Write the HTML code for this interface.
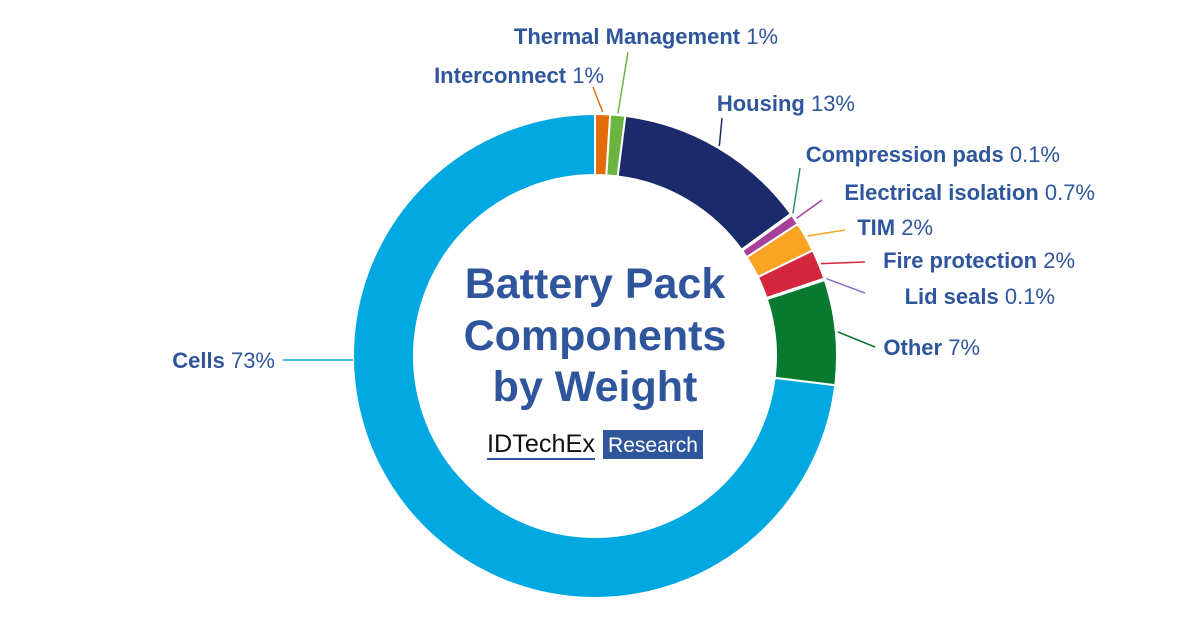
<!DOCTYPE html>
<html><head><meta charset="utf-8"><style>
body{margin:0;background:#fff;}
svg{display:block;font-family:"Liberation Sans",Arial,sans-serif;}
</style></head><body>
<svg id="chart" width="1200" height="627" viewBox="0 0 1200 627">
<g id="slices"></g><g id="labels"></g>
<g fill="#2f569c" font-weight="bold" font-size="43" text-anchor="middle">
<text x="595" y="298">Battery Pack</text>
<text x="595" y="350">Components</text>
<text x="595" y="401">by Weight</text>
</g>
<g>
<text x="487" y="452" font-size="25" fill="#111" textLength="108" lengthAdjust="spacingAndGlyphs">IDTechEx</text>
<line x1="487" y1="459" x2="595" y2="459" stroke="#2f569c" stroke-width="2"/>
<rect x="603" y="430" width="100" height="29" fill="#2f569c"/>
<text x="653" y="452" font-size="21" fill="#fff" text-anchor="middle">Research</text>
</g>
</svg>
<script>
const categories=["Interconnect","Thermal Management","Housing","Compression pads","Electrical isolation","TIM","Fire protection","Lid seals","Other","Cells"];
const values=[1,1,13,0.1,0.7,2,2,0.1,7,73];
const valueLabels=["1%","1%","13%","0.1%","0.7%","2%","2%","0.1%","7%","73%"];
const colors=["#e36c0a","#6cb33f","#1b2a6b","#2a8a7a","#a8409a","#f9a423","#d4263e","#8a6fc2","#087a2f","#00a8e1"];
const labelPos=[[604,83,"end"],[778,44,"end"],[855,111,"end"],[1060,162,"end"],[1095,200,"end"],[933,235,"end"],[1075,268,"end"],[1055,304,"end"],[980,355,"end"],[275,368,"end"]];
const lineEnd=[[593,87],[628,52],[722,118],[800,168],[822,200],[845,230],[865,262],[865,293],[875,347],[283,360]];
const cx=595,cy=356,R=242,r=181;
const NS="http://www.w3.org/2000/svg";
const total=values.reduce((a,b)=>a+b,0);
function pt(a,rad){return [cx+rad*Math.sin(a),cy-rad*Math.cos(a)];}
let acc=0;
const gS=document.getElementById('slices'),gL=document.getElementById('labels');
values.forEach((v,i)=>{
 const a0=acc/total*2*Math.PI;acc+=v;const a1=acc/total*2*Math.PI;
 const large=(a1-a0)>Math.PI?1:0;
 const p1=pt(a0,R),p2=pt(a1,R),p3=pt(a1,r),p4=pt(a0,r);
 const p=document.createElementNS(NS,'path');
 p.setAttribute('d',`M${p1}A${R},${R} 0 ${large} 1 ${p2}L${p3}A${r},${r} 0 ${large} 0 ${p4}Z`);
 p.setAttribute('fill',colors[i]);p.setAttribute('stroke','#fff');p.setAttribute('stroke-width','2');
 
 
 gS.appendChild(p);
 const am=(a0+a1)/2;const s=pt(am,R+2);
 const l=document.createElementNS(NS,'line');
 const e=lineEnd[i];
 l.setAttribute('x1',i==9?pt(-Math.PI/2,R)[0]:s[0]);l.setAttribute('y1',i==9?e[1]:s[1]);
 l.setAttribute('x2',e[0]);l.setAttribute('y2',e[1]);
 l.setAttribute('stroke',colors[i]);l.setAttribute('stroke-width','1.5');
 
 
 gL.appendChild(l);
 const t=document.createElementNS(NS,'text');
 const lp=labelPos[i];
 t.setAttribute('x',lp[0]);t.setAttribute('y',lp[1]);t.setAttribute('text-anchor',lp[2]);
 t.setAttribute('font-size','22');t.setAttribute('fill','#2f569c');
 
 
 const b=document.createElementNS(NS,'tspan');b.setAttribute('font-weight','bold');b.textContent=categories[i]+' ';
 const n=document.createElementNS(NS,'tspan');n.textContent=valueLabels[i];
 t.appendChild(b);t.appendChild(n);gL.appendChild(t);
});
</script>
</body></html>
